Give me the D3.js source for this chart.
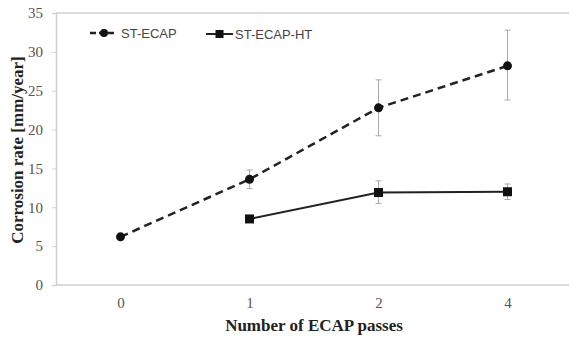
<!DOCTYPE html>
<html><head><meta charset="utf-8">
<script src="https://cdn.jsdelivr.net/npm/d3@7"></script>
<style>body{margin:0;background:#fff}</style>
</head><body><svg id="c" width="569" height="338"></svg>
<script>
const categories = ["0","1","2","4"];
const yTicks = [0,5,10,15,20,25,30,35];
const ecapCats = ["0","1","2","4"];
const ecapVals = [6.2, 13.6, 22.8, 28.2];
const ecapErrLo = [6.2, 12.4, 19.2, 23.8];
const ecapErrHi = [6.2, 14.8, 26.4, 32.8];
const htCats = ["1","2","4"];
const htVals = [8.5, 11.9, 12.0];
const htErrLo = [8.5, 10.5, 11.0];
const htErrHi = [8.5, 13.4, 13.0];
const seriesNames = ["ST-ECAP","ST-ECAP-HT"];

(function(){
const svg = d3.select("#c");
const pL=56, pR=572, pT=13, pB=285;
const x = d3.scalePoint().domain(categories).range([pL,pR]).padding(0.5);
const y = d3.scaleLinear().domain([0,35]).range([pB,pT]);

svg.append("line").attr("x1",pL).attr("x2",pR).attr("y1",y(35)).attr("y2",y(35)).attr("stroke","#d0d0d0").attr("stroke-width",1.5);
const yAxis = svg.append("g").attr("transform",`translate(${pL},0)`)
  .call(d3.axisLeft(y).tickValues(yTicks).tickSize(4).tickPadding(9));
yAxis.select(".domain").attr("stroke","#d0d0d0").attr("stroke-width",1.5);
yAxis.selectAll(".tick line").attr("stroke","#d0d0d0");
yAxis.selectAll("text").attr("font-family","Liberation Serif").attr("font-size",15).attr("fill","#555");

const xAxis = svg.append("g").attr("transform",`translate(0,${pB})`)
  .call(d3.axisBottom(x).tickSize(0).tickPadding(12));
xAxis.select(".domain").attr("stroke","#d0d0d0").attr("stroke-width",1.5).attr("d",`M${pL},0H${pR}`);
xAxis.selectAll("text").attr("font-family","Liberation Serif").attr("font-size",15).attr("fill","#555");

function errBars(cats, lo, hi){
  const g = svg.append("g").attr("stroke","#aaa").attr("stroke-width",1);
  cats.forEach((c,i)=>{
    if (hi[i]-lo[i] < 0.01) return;
    g.append("line").attr("x1",x(c)).attr("x2",x(c)).attr("y1",y(lo[i])).attr("y2",y(hi[i]));
    g.append("line").attr("x1",x(c)-3).attr("x2",x(c)+3).attr("y1",y(lo[i])).attr("y2",y(lo[i]));
    g.append("line").attr("x1",x(c)-3).attr("x2",x(c)+3).attr("y1",y(hi[i])).attr("y2",y(hi[i]));
  });
}
errBars(ecapCats, ecapErrLo, ecapErrHi);
errBars(htCats, htErrLo, htErrHi);

const line = d3.line().x(d=>x(d[0])).y(d=>y(d[1]));
svg.append("path").datum(ecapCats.map((c,i)=>[c,ecapVals[i]]))
  .attr("d",line).attr("fill","none").attr("stroke","#222").attr("stroke-width",2.5).attr("stroke-dasharray","8,5");
svg.append("path").datum(htCats.map((c,i)=>[c,htVals[i]]))
  .attr("d",line).attr("fill","none").attr("stroke","#222").attr("stroke-width",2);

svg.append("g").selectAll("circle").data(ecapCats.map((c,i)=>[c,ecapVals[i]])).join("circle")
  .attr("cx",d=>x(d[0])).attr("cy",d=>y(d[1])).attr("r",4.5).attr("fill","#111");
svg.append("g").selectAll("rect").data(htCats.map((c,i)=>[c,htVals[i]])).join("rect")
  .attr("x",d=>x(d[0])-4.5).attr("y",d=>y(d[1])-4.5).attr("width",9).attr("height",9).attr("fill","#111");

const lg = svg.append("g");
lg.append("line").attr("x1",90).attr("x2",117).attr("y1",33).attr("y2",33).attr("stroke","#222").attr("stroke-width",2.5).attr("stroke-dasharray","6,3");
lg.append("circle").attr("cx",104).attr("cy",33).attr("r",4).attr("fill","#111");
lg.append("text").attr("x",121).attr("y",38).text(seriesNames[0]).attr("font-family","Liberation Sans").attr("font-size",13).attr("fill","#444");
lg.append("line").attr("x1",206).attr("x2",233).attr("y1",34).attr("y2",34).attr("stroke","#222").attr("stroke-width",2);
lg.append("rect").attr("x",215.5).attr("y",30).attr("width",8).attr("height",8).attr("fill","#111");
lg.append("text").attr("x",235).attr("y",39).text(seriesNames[1]).attr("font-family","Liberation Sans").attr("font-size",13).attr("fill","#444");

svg.append("text").attr("x",314).attr("y",331).attr("text-anchor","middle")
  .attr("font-family","Liberation Serif").attr("font-weight","bold").attr("font-size",17).attr("fill","#222")
  .text("Number of ECAP passes");
svg.append("text").attr("transform","translate(23,150) rotate(-90)").attr("text-anchor","middle")
  .attr("font-family","Liberation Serif").attr("font-weight","bold").attr("font-size",17).attr("fill","#222")
  .text("Corrosion rate [mm/year]");
})();
</script></body></html>
